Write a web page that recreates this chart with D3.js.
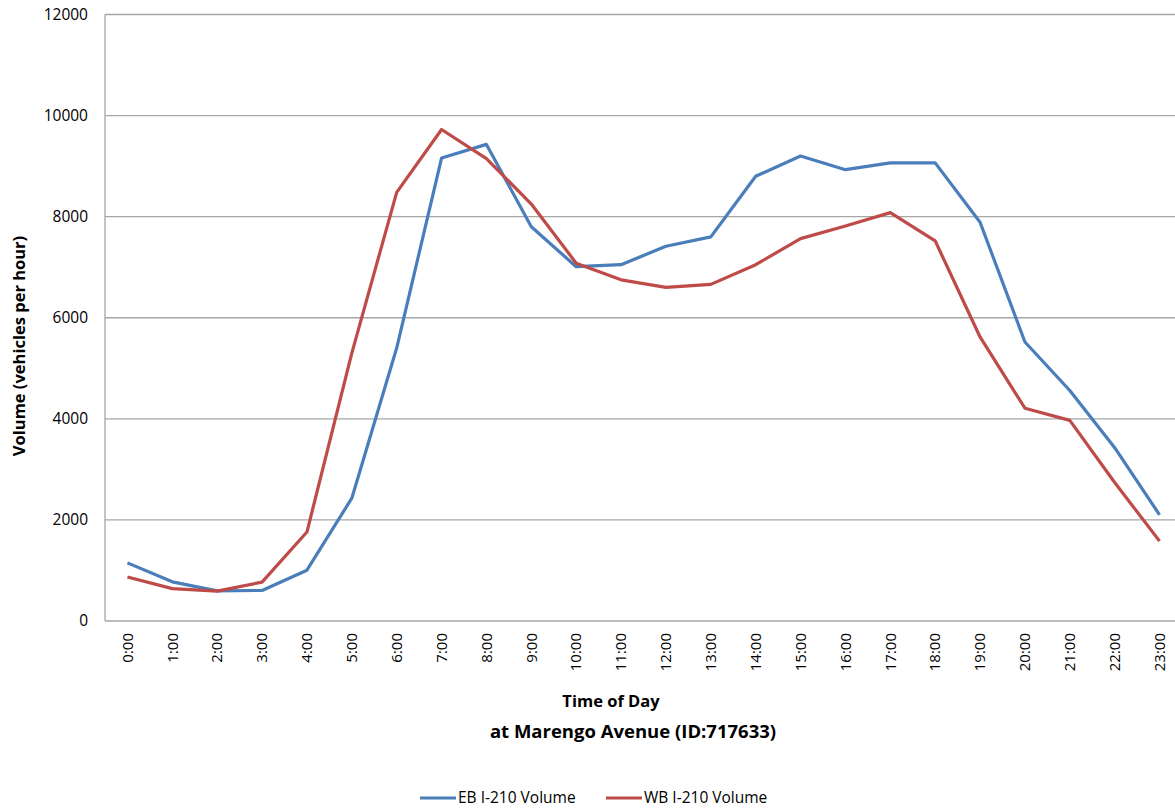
<!DOCTYPE html>
<html><head><meta charset="utf-8">
<script src="https://cdn.jsdelivr.net/npm/d3@7"></script>
<style>body{margin:0;background:#fff}svg{display:block}</style>
</head><body>
<svg id="c" width="1175" height="809"></svg>
<script>
const hours = ["0:00","1:00","2:00","3:00","4:00","5:00","6:00","7:00","8:00","9:00","10:00","11:00","12:00","13:00","14:00","15:00","16:00","17:00","18:00","19:00","20:00","21:00","22:00","23:00"];
const ebVolume = [1150,775,595,605,1005,2430,5400,9160,9430,7800,7010,7050,7415,7600,8800,9200,8930,9065,9065,7890,5520,4560,3430,2100];
const wbVolume = [870,640,590,770,1760,5300,8480,9725,9150,8250,7080,6750,6600,6660,7050,7565,7815,8080,7520,5620,4210,3970,2740,1580];
const yTicks = [0,2000,4000,6000,8000,10000,12000];
const seriesNames = ["EB I-210 Volume","WB I-210 Volume"];
const colors = ["#4a7ebb","#be4b48"];

const svg = d3.select("#c");
const L=105, R=1182, T=14.5, B=621;
const x = d3.scaleBand().domain(hours).range([L,R]);
const y = d3.scaleLinear().domain([0,12000]).range([B,T]);
const font = "'Open Sans','Noto Sans',sans-serif";

// gridlines
svg.append("g").selectAll("line").data(yTicks.filter(d=>d>0)).join("line")
  .attr("x1",L).attr("x2",R).attr("y1",d=>y(d)).attr("y2",d=>y(d))
  .attr("stroke","#a6a6a6").attr("stroke-width",1.3);
// axes lines
svg.append("line").attr("x1",L).attr("x2",L).attr("y1",T).attr("y2",B).attr("stroke","#a6a6a6").attr("stroke-width",1.3);
svg.append("line").attr("x1",L).attr("x2",R).attr("y1",B).attr("y2",B).attr("stroke","#a6a6a6").attr("stroke-width",1.3);

// y tick labels
svg.append("g").selectAll("text").data(yTicks).join("text")
  .attr("x",88).attr("y",d=>y(d)).attr("dy","0.35em").attr("text-anchor","end")
  .attr("font-family",font).attr("font-size",15.5).attr("fill","#000").text(d=>d);

// x tick labels
svg.append("g").selectAll("text").data(hours).join("text")
  .attr("transform",d=>`translate(${x(d)+x.bandwidth()/2},633) rotate(-90)`)
  .attr("dy","0.35em").attr("text-anchor","end")
  .attr("font-family",font).attr("font-size",15).attr("fill","#000").text(d=>d);

// lines
const line = d3.line().x((d,i)=>x(hours[i])+x.bandwidth()/2).y(d=>y(d));
[ebVolume, wbVolume].forEach((s,i)=>{
  svg.append("path").datum(s).attr("d",line).attr("fill","none")
    .attr("stroke",colors[i]).attr("stroke-width",3.2).attr("stroke-linejoin","round");
});

// titles
svg.append("text").attr("x",611).attr("y",707).attr("text-anchor","middle")
  .attr("font-family",font).attr("font-weight","bold").attr("font-size",16.5).text("Time of Day");
svg.append("text").attr("x",633).attr("y",738).attr("text-anchor","middle")
  .attr("font-family",font).attr("font-weight","bold").attr("font-size",18.5).text("at Marengo Avenue (ID:717633)");
svg.append("text").attr("transform","translate(25,346) rotate(-90)").attr("text-anchor","middle")
  .attr("font-family",font).attr("font-weight","bold").attr("font-size",16.5).text("Volume  (vehicles per hour)");

// legend
const legX = [420,606];
seriesNames.forEach((n,i)=>{
  svg.append("line").attr("x1",legX[i]).attr("x2",legX[i]+36).attr("y1",798).attr("y2",798)
    .attr("stroke",colors[i]).attr("stroke-width",3.2);
  svg.append("text").attr("x",legX[i]+38).attr("y",798).attr("dy","0.35em")
    .attr("font-family",font).attr("font-size",15.5).text(n);
});
</script>
</body></html>
